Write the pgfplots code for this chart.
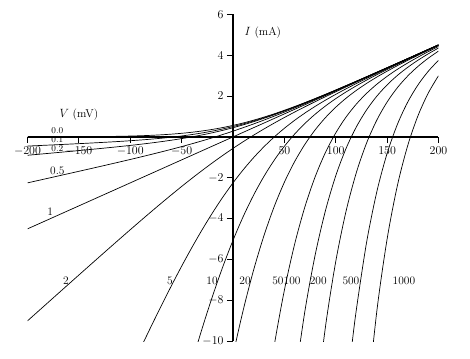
\documentclass[border=0pt]{standalone}
\usepackage{pgfplots}
\pgfplotsset{compat=1.18}
\begin{document}
\begin{tikzpicture}[font=\fontsize{11.5}{13}\selectfont]
\begin{axis}[
  scale only axis, width=411bp, height=327bp,
  xmin=-200,xmax=200,ymin=-10,ymax=6,
  axis lines=middle,
  axis line style={-, line width=1.5pt},
  xtick={-200,-150,-100,-50,50,100,150,200},
  ytick={-10,-8,-6,-4,-2,2,4,6},
  tick align=outside,
  major tick length=6bp,
  tick style={black, line width=0.8pt},
  tick label style={font=\fontsize{11.5}{13}\selectfont},
  clip mode=individual,
  cycle list={{black}},
  every axis plot post/.append style={black, solid, line width=0.7pt, smooth, mark=none},
]
% c = 0.0
\addplot coordinates {(-200,0.0015)(-190,0.0021)(-180,0.0030)(-170,0.0043)(-160,0.0060)(-150,0.0084)(-140,0.0117)(-130,0.0162)(-120,0.0224)(-110,0.0308)(-100,0.0420)(-90,0.0569)(-80,0.0765)(-70,0.1020)(-60,0.1347)(-50,0.1761)(-40,0.2277)(-30,0.2909)(-20,0.3672)(-10,0.4575)(0,0.5625)(10,0.6825)(20,0.8172)(30,0.9659)(40,1.1277)(50,1.3011)(60,1.4847)(70,1.6770)(80,1.8765)(90,2.0819)(100,2.2920)(110,2.5058)(120,2.7224)(130,2.9412)(140,3.1617)(150,3.3834)(160,3.6060)(170,3.8293)(180,4.0530)(190,4.2771)(200,4.5015)};
% c = 0.1
\addplot coordinates {(-200,-0.4486)(-190,-0.4256)(-180,-0.4023)(-170,-0.3787)(-160,-0.3546)(-150,-0.3300)(-140,-0.3045)(-130,-0.2779)(-120,-0.2498)(-110,-0.2198)(-100,-0.1872)(-90,-0.1513)(-80,-0.1112)(-70,-0.0657)(-60,-0.0138)(-50,0.0460)(-40,0.1149)(-30,0.1943)(-20,0.2855)(-10,0.3892)(0,0.5063)(10,0.6367)(20,0.7805)(30,0.9368)(40,1.1049)(50,1.2835)(60,1.4712)(70,1.6668)(80,1.8688)(90,2.0762)(100,2.2878)(110,2.5027)(120,2.7202)(130,2.9396)(140,3.1605)(150,3.3826)(160,3.6054)(170,3.8288)(180,4.0527)(190,4.2769)(200,4.5014)};
% c = 0.2
\addplot coordinates {(-200,-0.8988)(-190,-0.8533)(-180,-0.8076)(-170,-0.7616)(-160,-0.7152)(-150,-0.6683)(-140,-0.6207)(-130,-0.5720)(-120,-0.5221)(-110,-0.4704)(-100,-0.4164)(-90,-0.3595)(-80,-0.2988)(-70,-0.2334)(-60,-0.1623)(-50,-0.0841)(-40,0.0021)(-30,0.0977)(-20,0.2037)(-10,0.3210)(0,0.4500)(10,0.5910)(20,0.7437)(30,0.9077)(40,1.0821)(50,1.2659)(60,1.4578)(70,1.6566)(80,1.8612)(90,2.0705)(100,2.2836)(110,2.4996)(120,2.7179)(130,2.9380)(140,3.1594)(150,3.3817)(160,3.6048)(170,3.8284)(180,4.0524)(190,4.2767)(200,4.5012)};
% c = 0.5
\addplot coordinates {(-200,-2.2492)(-190,-2.1364)(-180,-2.0235)(-170,-1.9104)(-160,-1.7970)(-150,-1.6833)(-140,-1.5692)(-130,-1.4544)(-120,-1.3388)(-110,-1.2221)(-100,-1.1040)(-90,-0.9841)(-80,-0.8618)(-70,-0.7365)(-60,-0.6077)(-50,-0.4745)(-40,-0.3362)(-30,-0.1920)(-20,-0.0414)(-10,0.1162)(0,0.2813)(10,0.4537)(20,0.6336)(30,0.8205)(40,1.0138)(50,1.2130)(60,1.4173)(70,1.6260)(80,1.8382)(90,2.0534)(100,2.2710)(110,2.4904)(120,2.7112)(130,2.9331)(140,3.1558)(150,3.3792)(160,3.6030)(170,3.8271)(180,4.0515)(190,4.2761)(200,4.5008)};
% c = 1
\addplot coordinates {(-200,-4.5)(-100,-2.25)(0,0)(100,2.25)(200,4.5)};
% c = 2
\addplot coordinates {(-200,-9.0015)(-190,-8.5521)(-180,-8.1030)(-170,-7.6543)(-160,-7.2060)(-150,-6.7584)(-140,-6.3117)(-130,-5.8662)(-120,-5.4224)(-110,-4.9808)(-100,-4.5420)(-90,-4.1069)(-80,-3.6765)(-70,-3.2520)(-60,-2.8347)(-50,-2.4261)(-40,-2.0277)(-30,-1.6409)(-20,-1.2672)(-10,-0.9075)(0,-0.5625)(10,-0.2325)(20,0.0828)(30,0.3841)(40,0.6723)(50,0.9489)(60,1.2153)(70,1.4730)(80,1.7235)(90,1.9681)(100,2.2080)(110,2.4442)(120,2.6776)(130,2.9088)(140,3.1383)(150,3.3666)(160,3.5940)(170,3.8207)(180,4.0470)(190,4.2729)(200,4.4985)};
% c = 5
\addplot coordinates {(-100,-11.418)(-90,-10.353)(-80,-9.306)(-70,-8.283)(-60,-7.289)(-50,-6.329)(-40,-5.411)(-30,-4.539)(-20,-3.719)(-10,-2.955)(0,-2.25)(10,-1.6049)(20,-1.0187)(30,-0.4887)(40,-0.0107)(50,0.4207)(60,0.8112)(70,1.1671)(80,1.4940)(90,1.7974)(100,2.0821)(110,2.3520)(120,2.6104)(130,2.8601)(140,3.1032)(150,3.3414)(160,3.5760)(170,3.8079)(180,4.0379)(190,4.2664)(200,4.4940)};
% c = 10
\addplot coordinates {(-50,-12.835)(-40,-11.049)(-30,-9.368)(-20,-7.805)(-10,-6.367)(0,-5.0625)(10,-3.8923)(20,-2.8546)(30,-1.9434)(40,-1.1490)(50,-0.4597)(60,0.1378)(70,0.6572)(80,1.1116)(90,1.5130)(100,1.8722)(110,2.1982)(120,2.4983)(130,2.7789)(140,3.0448)(150,3.2995)(160,3.5461)(170,3.7866)(180,4.0227)(190,4.2557)(200,4.4864)};
% c = 20
\addplot coordinates {(-10,-13.192)(0,-10.6875)(10,-8.4671)(20,-6.5264)(30,-4.8527)(40,-3.4257)(50,-2.2205)(60,-1.2091)(70,-0.3626)(80,0.3467)(90,0.9441)(100,1.4524)(110,1.8906)(120,2.2742)(130,2.6166)(140,2.9279)(150,3.2156)(160,3.4862)(170,3.7439)(180,3.9924)(190,4.2343)(200,4.4713)};
% c = 50
\addplot coordinates {(30,-13.581)(40,-10.256)(50,-7.503)(60,-5.2498)(70,-3.4220)(80,-1.9480)(90,-0.7626)(100,0.1930)(110,0.9678)(120,1.6019)(130,2.1297)(140,2.5772)(150,2.9639)(160,3.3065)(170,3.6158)(180,3.9015)(190,4.1701)(200,4.4260)};
% c = 100
\addplot coordinates {(60,-11.984)(70,-8.521)(80,-5.7725)(90,-3.6071)(100,-1.9060)(110,-0.5702)(120,0.4814)(130,1.3182)(140,1.9927)(150,2.5444)(160,3.0070)(170,3.4023)(180,3.7500)(190,4.0631)(200,4.3505)};
% c = 200
\addplot coordinates {(80,-13.422)(90,-9.295)(100,-6.1038)(110,-3.6470)(120,-1.7586)(130,-0.3040)(140,0.8235)(150,1.7060)(160,2.4076)(170,2.9763)(180,3.4478)(190,3.8491)(200,4.1995)};
% c = 500
\addplot coordinates {(110,-12.876)(115,-10.52)(120,-8.480)(130,-5.1718)(140,-2.6838)(150,-0.8101)(160,0.6100)(170,1.6968)(180,2.5400)(190,3.2071)(200,3.7465)};
% c = 1000
\addplot coordinates {(130,-13.285)(140,-8.529)(150,-5.0036)(160,-2.3860)(170,-0.4357)(180,1.0270)(190,2.1371)(200,2.9915)};

% axis titles
\node at (axis cs:-150,1.1) {$V$ (mV)};
\node[anchor=west] at (axis cs:8,5.1) {$I$ (mA)};
% curve labels
\node[font=\fontsize{9}{10}\selectfont, inner sep=0pt] at (axis cs:-171,0.33) {0.0};
\node[font=\fontsize{9}{10}\selectfont, inner sep=0pt] at (axis cs:-171,-0.13) {0.1};
\node[font=\fontsize{9}{10}\selectfont, inner sep=0pt] at (axis cs:-171,-0.59) {0.2};
\node at (axis cs:-171,-1.66) {0.5};
\node at (axis cs:-178,-3.67) {1};
\node at (axis cs:-162.5,-7.05) {2};
\node at (axis cs:-61.3,-7.05) {5};
\node at (axis cs:-20.4,-7.05) {10};
\node at (axis cs:11.7,-7.05) {20};
\node[inner xsep=0pt] at (axis cs:43.8,-7.05) {50};
\node[inner xsep=0pt] at (axis cs:57.5,-7.05) {100};
\node at (axis cs:83,-7.05) {200};
\node at (axis cs:114.8,-7.05) {500};
\node at (axis cs:166.4,-7.05) {1000};
% picture extent
\path (axis cs:-226.8,6.70) rectangle (axis cs:230.7,-10.86);
\end{axis}
\end{tikzpicture}
\end{document}
